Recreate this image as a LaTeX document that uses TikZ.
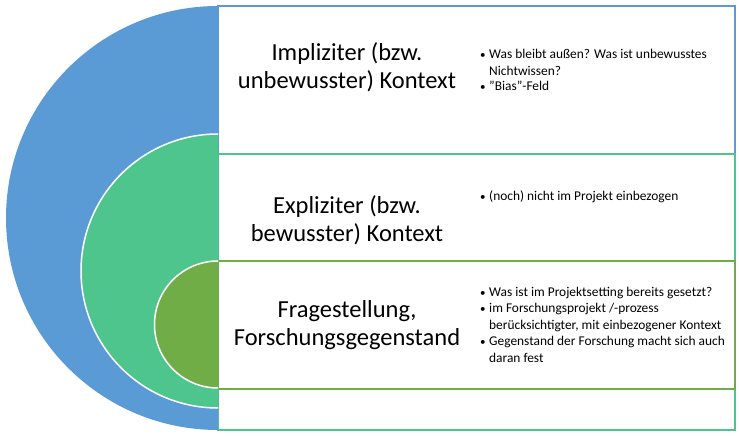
\documentclass[tikz,border=0pt]{standalone}
\usepackage{fontspec}
\setmainfont{Carlito}
\definecolor{cblue}{HTML}{5B9BD5}
\definecolor{cgreen}{HTML}{4EC58C}
\definecolor{cdgreen}{HTML}{70AD47}
\begin{document}
\begin{tikzpicture}[x=1pt,y=1pt,
  boxline/.style={line width=2pt, fill=white, draw=#1},
  head/.style={font=\fontsize{24.5}{28}\selectfont, align=center, inner sep=0pt},
  btxt/.style={font=\fontsize{13.4}{16.2}\selectfont, align=left, anchor=base west, inner sep=0pt},
  bdot/.style={font=\fontsize{11}{12}\selectfont, anchor=base west, inner sep=0pt}]
\useasboundingbox (0,0) rectangle (739,436);
% boxes
\path[boxline=cblue] (218,430) rectangle (735,5.5);
\path[boxline=cgreen] (218,281.5) rectangle (735,5.5);
\path[boxline=cdgreen] (218,175) rectangle (735,47);
% semicircles
\begin{scope}
\clip (0,0) rectangle (218,436);
\fill[cblue] (218,218) circle[radius=212];
\filldraw[fill=cgreen, draw=white, line width=1.5pt] (218,165) circle[radius=137];
\filldraw[fill=cdgreen, draw=white, line width=1.5pt] (218,111.5) circle[radius=63.5];
\end{scope}
% headings
\node[head] (h1) at (347,368.5) {Impliziter (bzw.\\unbewusster) Kontext};
\node[head] (h2) at (347,215.5) {Expliziter (bzw.\\bewusster) Kontext};
\node[head] (h3) at (347,110.5) {Fragestellung,\\Forschungsgegenstand};
% bullets box 1
\node[bdot] (d11) at (480,377) {\textbullet};
\node[btxt] (t11) at (489,360.8) {Was bleibt außen? Was ist unbewusstes\\Nichtwissen?};
\node[bdot] (d12) at (480,345) {\textbullet};
\node[btxt] (t12) at (489,345) {"Bias"-Feld};
% bullets box 2
\node[bdot] (d21) at (480,235) {\textbullet};
\node[btxt] (t21) at (489,235) {(noch) nicht im Projekt einbezogen};
% bullets box 3
\node[bdot] (d31) at (480,139) {\textbullet};
\node[btxt] (t31) at (489,139) {Was ist im Projektsetting bereits gesetzt?};
\node[bdot] (d32) at (480,123) {\textbullet};
\node[btxt] (t32) at (489,106.8) {im Forschungsprojekt /-prozess\\berücksichtigter, mit einbezogener Kontext};
\node[bdot] (d33) at (480,90) {\textbullet};
\node[btxt] (t33) at (489,73.8) {Gegenstand der Forschung macht sich auch\\daran fest};
\end{tikzpicture}
\end{document}
